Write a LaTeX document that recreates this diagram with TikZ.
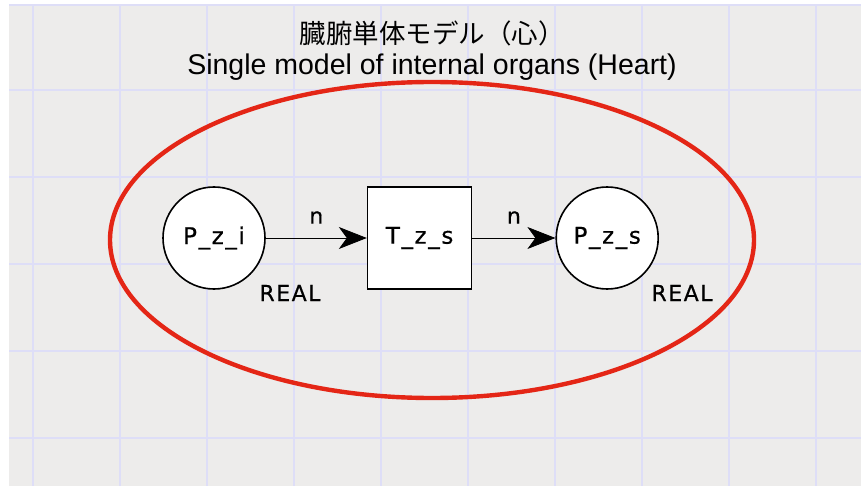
\documentclass[tikz,border=0pt]{standalone}
\usepackage{fontspec}
\setmainfont{Liberation Sans}
\newfontfamily\cjkfont{Noto Sans CJK JP}
\newfontfamily\nodefont[LetterSpace=7, FakeBold=0.6]{DejaVu Sans}
\usetikzlibrary{arrows.meta, positioning}
\definecolor{panelcolor}{RGB}{237,236,235}
\definecolor{gridcolor}{RGB}{222,222,247}
\definecolor{ringcolor}{RGB}{228,38,22}
\tikzset{
  place/.style={draw, circle, line width=1.6pt, fill=white, minimum size=102pt,
                inner sep=0pt, font=\nodefont\fontsize{23}{26}\selectfont},
  transition/.style={draw, rectangle, line width=1.6pt, fill=white,
                     minimum width=104pt, minimum height=102pt, inner sep=0pt,
                     font=\nodefont\fontsize{23}{26}\selectfont},
  arc/.style={-{Stealth[length=28pt, width=22pt, inset=8pt]}, line width=0.8pt},
  label/.style={font=\nodefont\fontsize{22}{26}\selectfont, inner sep=0pt},
}

\begin{document}
\begin{tikzpicture}[x=1pt, y=-1pt]

  % Hintergrund
  \useasboundingbox (0,0) rectangle (861,486);
  \fill[white] (0,0) rectangle (861,486);
  \fill[panelcolor] (9,5) rectangle (861,486);
  \foreach \x in {33,120,...,816}
    \draw[gridcolor, line width=1.1pt] (\x,5) -- (\x,486);
  \foreach \y in {5,90,177,264,351,438}
    \draw[gridcolor, line width=1.1pt] (9,\y) -- (861,\y);

  % Titel
  \node[font=\cjkfont\fontsize{26.5}{30}\selectfont] (title) at (432,33)
    {臓腑単体モデル（心）};
  \node[font=\fontsize{28.5}{32}\selectfont, below=1pt of title] (subtitle)
    {Single model of internal organs (Heart)};

  % Modell
  \draw[ringcolor, line width=4.4pt] (432,240) ellipse (322pt and 158pt);

  \node[place] (pzi) at (214,238) {P\_z\_i};
  \node[transition, right=101pt of pzi] (tzs) {T\_z\_s};
  \node[place, right=83pt of tzs] (pzs) {P\_z\_s};

  \node[label] (real1) at (290,293) {REAL};
  \node[label] (real2) at (682,293) {REAL};

  \draw[arc] (pzi) -- node[label, above=14pt] {n} (tzs);
  \draw[arc] (tzs) -- node[label, above=14pt] {n} (pzs);

\end{tikzpicture}
\end{document}
